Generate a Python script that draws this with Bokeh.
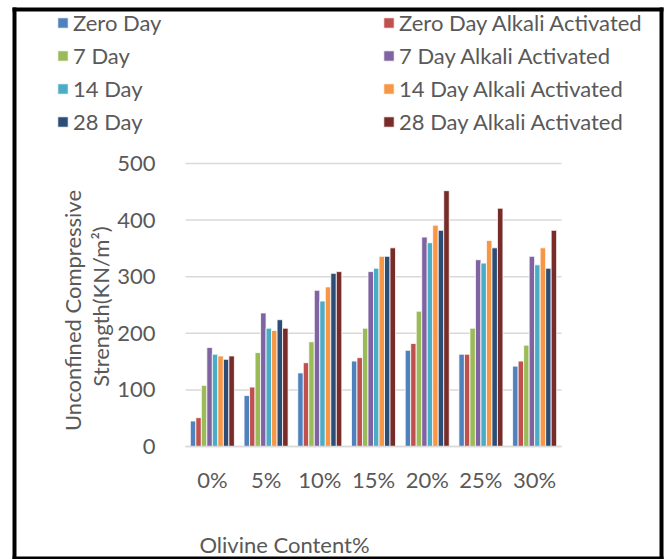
from bokeh.plotting import figure
from bokeh.models import (Range1d, FixedTicker, Legend, LegendItem,
                          Label, BoxAnnotation, ColumnDataSource)
from bokeh.transform import dodge
from bokeh.embed import file_html
from bokeh.resources import INLINE
import math

categories = ["0%", "5%", "10%", "15%", "20%", "25%", "30%"]
series_names = ["Zero Day", "Zero Day Alkali Activated", "7 Day", "7 Day Alkali Activated",
                "14 Day", "14 Day Alkali Activated", "28 Day", "28 Day Alkali Activated"]
zero_day = [45, 90, 130, 151, 170, 163, 142]
zero_day_aa = [51, 105, 148, 157, 182, 163, 151]
day7 = [108, 166, 185, 209, 239, 209, 179]
day7_aa = [175, 236, 276, 309, 370, 330, 336]
day14 = [163, 209, 257, 315, 360, 324, 321]
day14_aa = [160, 205, 282, 336, 391, 364, 351]
day28 = [154, 224, 306, 336, 382, 351, 315]
day28_aa = [160, 209, 309, 351, 452, 421, 382]
y_ticks = [0, 100, 200, 300, 400, 500]

series_values = [zero_day, zero_day_aa, day7, day7_aa, day14, day14_aa, day28, day28_aa]
colors = ["#4F81BD", "#C0504D", "#9BBB59", "#8064A2", "#4BACC6", "#F79646", "#2C4D75", "#772C2A"]
keys = ["s%d" % i for i in range(8)]

ncat = len(categories)
centers = [i + 0.5 for i in range(ncat)]
data = {"xc": centers, "cat": categories}
for k, v in zip(keys, series_values):
    data[k] = v
source = ColumnDataSource(data)

FONT = "Lato"
TXT = "#595959"
W, H = 670, 559
# plot area in canvas pixels
FL, FR, FT, FB = 185, 561, 163, 446
kx = (FR - FL) / ncat
ky = (FB - FT) / y_ticks[-1]
x_range = Range1d(-FL / kx, ncat + (W - FR) / kx)
y_range = Range1d(-(H - FB) / ky, y_ticks[-1] + FT / ky)

p = figure(x_range=x_range, y_range=y_range, width=W, height=H,
           output_backend="svg", toolbar_location=None, min_border=0)
p.outline_line_color = None
p.xgrid.grid_line_color = None
p.ygrid.grid_line_color = None

# gridlines limited to the plot area
p.segment(x0=0, x1=ncat, y0=y_ticks, y1=y_ticks, line_color="#D9D9D9", line_width=1.5)

group_w = 0.82
bar_w = group_w / 8
renderers = []
for i, (k, c) in enumerate(zip(keys, colors)):
    off = -group_w / 2 + bar_w / 2 + i * bar_w
    r = p.vbar(x=dodge("xc", off), top=k, width=bar_w, source=source,
               fill_color=c, line_color="white", line_width=0.8)
    renderers.append(r)

yax = p.yaxis[0]
yax.fixed_location = 0
yax.bounds = (y_ticks[0], y_ticks[-1])
yax.ticker = FixedTicker(ticks=y_ticks)
yax.axis_line_color = None
yax.major_tick_line_color = None
yax.minor_tick_line_color = None
yax.major_label_standoff = 24

xax = p.xaxis[0]
xax.fixed_location = 0
xax.bounds = (0, ncat)
xax.ticker = FixedTicker(ticks=centers)
xax.major_label_overrides = {c: t for c, t in zip(centers, categories)}
xax.axis_line_color = "#D9D9D9"
xax.axis_line_width = 1.5
xax.major_tick_line_color = None
xax.minor_tick_line_color = None
xax.major_label_standoff = 13
for ax in (xax, yax):
    ax.major_label_text_font = FONT
    ax.major_label_text_font_size = "22px"
    ax.major_label_text_color = TXT

def make_legend(idxs, vx):
    leg = Legend(items=[LegendItem(label=series_names[i], renderers=[renderers[i]]) for i in idxs],
                 location=(vx, 423), orientation="vertical", padding=0, margin=0, spacing=3,
                 label_height=30, glyph_height=13, glyph_width=13, label_standoff=4,
                 border_line_color=None, background_fill_alpha=0,
                 label_text_font=FONT, label_text_font_size="22px", label_text_color=TXT)
    p.add_layout(leg)

make_legend([0, 2, 4, 6], 56)
make_legend([1, 3, 5, 7], 382)

lab_kw = dict(x_units="canvas", y_units="canvas", text_font=FONT, text_font_size="22px",
              text_color=TXT, text_align="center", text_baseline="middle")
p.add_layout(Label(x=72, y=310, text="Unconfined Compressive", angle=math.pi / 2, **lab_kw))
p.add_layout(Label(x=100, y=306, text="Strength(KN/m\u00b2)", angle=math.pi / 2, **lab_kw))
p.add_layout(Label(x=284, y=544, text="Olivine Content%", **lab_kw))

box_kw = dict(left_units="canvas", right_units="canvas", top_units="canvas", bottom_units="canvas",
              fill_color="black", fill_alpha=1, line_color=None)
p.add_layout(BoxAnnotation(left=12, right=663, top=7, bottom=11, **box_kw))
p.add_layout(BoxAnnotation(left=12, right=16, top=7, bottom=559, **box_kw))
p.add_layout(BoxAnnotation(left=659, right=663, top=7, bottom=559, **box_kw))
p.add_layout(BoxAnnotation(left=12, right=663, top=556, bottom=559, **box_kw))

open("out.html", "w").write(file_html(p, INLINE))
